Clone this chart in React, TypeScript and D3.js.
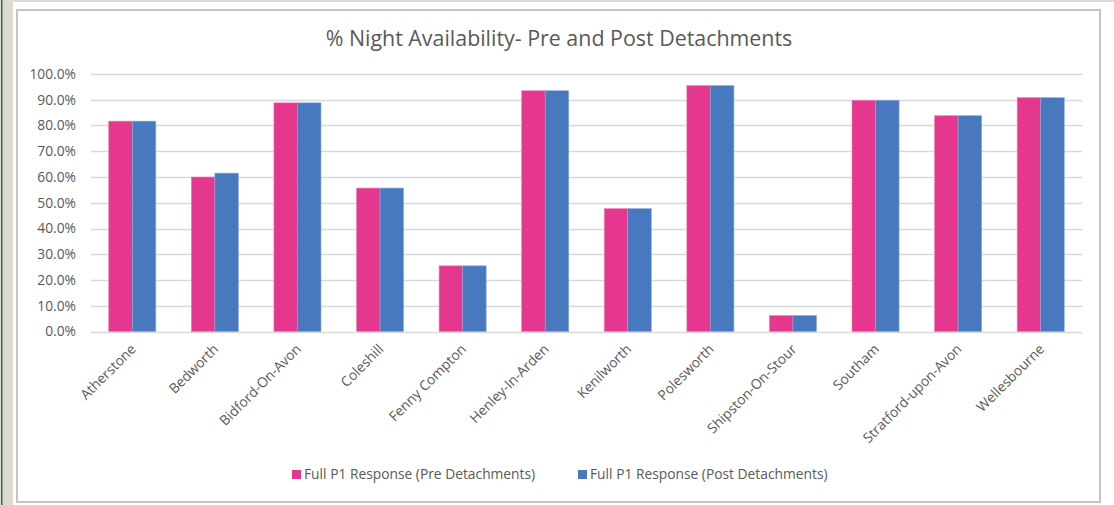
import { useEffect, useRef } from 'react'
import * as d3 from 'd3'

const stations = [
	'Atherstone',
	'Bedworth',
	'Bidford-On-Avon',
	'Coleshill',
	'Fenny Compton',
	'Henley-In-Arden',
	'Kenilworth',
	'Polesworth',
	'Shipston-On-Stour',
	'Southam',
	'Stratford-upon-Avon',
	'Wellesbourne',
]
const preDetachments = [0.817, 0.6, 0.888, 0.557, 0.255, 0.935, 0.477, 0.955, 0.062, 0.898, 0.838, 0.908]
const postDetachments = [0.817, 0.615, 0.888, 0.557, 0.255, 0.935, 0.477, 0.955, 0.062, 0.898, 0.838, 0.908]
const seriesNames = ['Full P1 Response (Pre Detachments)', 'Full P1 Response (Post Detachments)']
const yTicks = [0, 0.1, 0.2, 0.3, 0.4, 0.5, 0.6, 0.7, 0.8, 0.9, 1.0]

const colors = ['#e5378d', '#4878be']
const font = "'Open Sans', 'Noto Sans', sans-serif"
const textColor = '#595959'

const App = () => {
	const svgRef = useRef(null)

	useEffect(() => {
		const W = 1114
		const H = 505
		const svg = d3.select(svgRef.current)
		svg.selectAll('*').remove()
		svg.attr('width', W).attr('height', H)

		// window chrome around the chart
		svg.append('rect').attr('width', W).attr('height', H).attr('fill', '#ffffff')
		svg.append('rect').attr('x', 0).attr('y', 0).attr('width', 13).attr('height', H).attr('fill', '#dddbd2')
		svg.append('rect').attr('x', 13).attr('y', 0).attr('width', W - 13).attr('height', 2).attr('fill', '#dddbd2')
		svg.append('rect').attr('x', 1).attr('y', 0).attr('width', 1.5).attr('height', H).attr('fill', '#2f6d4c')
		svg
			.append('rect')
			.attr('x', 17)
			.attr('y', 10)
			.attr('width', 1083)
			.attr('height', 492)
			.attr('fill', '#ffffff')
			.attr('stroke', '#c4c4c4')
			.attr('stroke-width', 2)

		const margin = { left: 91, right: 1082, top: 74, bottom: 331.5 }

		const x0 = d3.scaleBand().domain(stations).range([margin.left, margin.right]).paddingInner(0.43).paddingOuter(0.215)
		const x1 = d3.scaleBand().domain(seriesNames).range([0, x0.bandwidth()])
		const y = d3.scaleLinear().domain([0, 1]).range([margin.bottom, margin.top])

		// gridlines
		svg
			.append('g')
			.selectAll('line')
			.data(yTicks)
			.enter()
			.append('line')
			.attr('x1', margin.left)
			.attr('x2', margin.right)
			.attr('y1', (d) => Math.round(y(d)) + 0.5)
			.attr('y2', (d) => Math.round(y(d)) + 0.5)
			.attr('stroke', '#d9d9d9')
			.attr('stroke-width', 1.5)

		// y labels
		svg
			.append('g')
			.selectAll('text')
			.data(yTicks)
			.enter()
			.append('text')
			.attr('x', 76)
			.attr('y', (d) => y(d))
			.attr('dy', '0.35em')
			.attr('text-anchor', 'end')
			.style('font-family', font)
			.style('font-size', '13.8px')
			.style('fill', textColor)
			.text((d) => d3.format('.1%')(d))

		// bars
		const series = [preDetachments, postDetachments]
		series.forEach((vals, si) => {
			svg
				.append('g')
				.selectAll('rect')
				.data(vals)
				.enter()
				.append('rect')
				.attr('x', (d, i) => x0(stations[i]) + x1(seriesNames[si]))
				.attr('y', (d) => y(d))
				.attr('width', x1.bandwidth())
				.attr('height', (d) => y(0) - y(d))
				.attr('fill', colors[si])
				.attr('stroke', si === 0 ? '#f07fb6' : '#8aa9d8')
				.attr('stroke-width', 0.6)
		})

		// x labels
		svg
			.append('g')
			.selectAll('text')
			.data(stations)
			.enter()
			.append('text')
			.attr('transform', (d) => `translate(${x0(d) + x0.bandwidth() / 2 + 1},${margin.bottom + 15}) rotate(-45)`)
			.attr('text-anchor', 'end')
			.attr('dy', '0.35em')
			.style('font-family', font)
			.style('font-size', '13.8px')
			.style('fill', textColor)
			.text((d) => d)

		// title
		svg
			.append('text')
			.attr('x', 559)
			.attr('y', 46)
			.attr('text-anchor', 'middle')
			.style('font-family', font)
			.style('font-size', '21.4px')
			.style('fill', textColor)
			.text('% Night Availability- Pre and Post Detachments')

		// legend
		const legendX = [292, 578]
		seriesNames.forEach((name, i) => {
			const g = svg.append('g').attr('transform', `translate(${legendX[i]},470)`)
			g.append('rect').attr('width', 9).attr('height', 9).attr('fill', colors[i])
			g.append('text')
				.attr('x', 12)
				.attr('y', 4.5)
				.attr('dy', '0.35em')
				.style('font-family', font)
				.style('font-size', '13.8px')
				.style('fill', textColor)
				.text(name)
		})
	}, [])

	return <svg ref={svgRef} style={{ position: 'absolute', left: 0, top: 0 }}></svg>
}

export default App
